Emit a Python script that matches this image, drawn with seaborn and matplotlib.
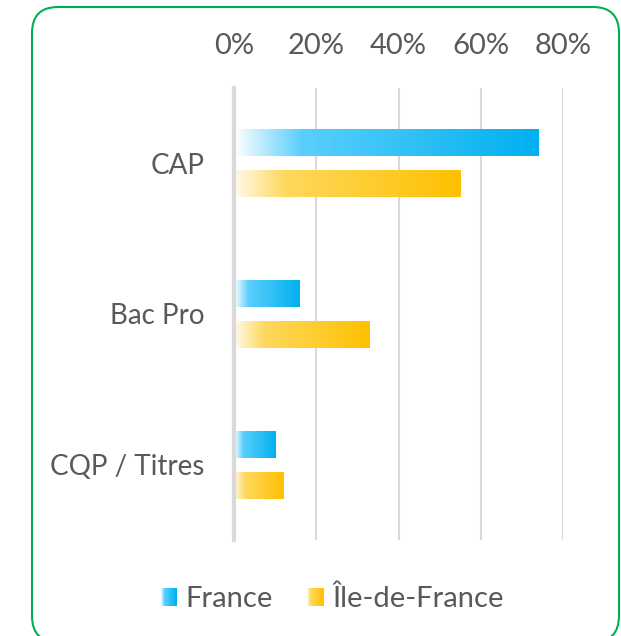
import numpy as np
import pandas as pd
import matplotlib
matplotlib.use("Agg")
import matplotlib.pyplot as plt
import seaborn as sns
from matplotlib.colors import LinearSegmentedColormap
from matplotlib.patches import FancyBboxPatch, Rectangle
from matplotlib.legend_handler import HandlerBase

# Share of apprentices by diploma type (%)
categories = ["CAP", "Bac Pro", "CQP / Titres"]
series = ["France", "Île-de-France"]
france = [74, 16, 10]
ile_de_france = [55, 33, 12]
tick_values = [0, 20, 40, 60, 80]
tick_labels = ["0%", "20%", "40%", "60%", "80%"]

df = pd.DataFrame({
    "Diplôme": categories * 2,
    "Zone": [series[0]] * len(categories) + [series[1]] * len(categories),
    "Part": france + ile_de_france,
})

TEXT = "#595959"
GRID = "#d9d9d9"
FS = 21

sns.set_theme(style="white")
plt.rcParams["font.family"] = ["Lato", "DejaVu Sans"]

W, H = 621, 636
fig = plt.figure(figsize=(W / 100, H / 100), dpi=100)
ax = fig.add_axes([234 / W, 1 - 540 / H, (563 - 234) / W, (540 - 88) / H])

sns.barplot(data=df, y="Diplôme", x="Part", hue="Zone", orient="h",
            order=categories, hue_order=series, width=0.544, gap=0.34,
            errorbar=None, saturation=1, linewidth=0, legend=False, ax=ax)

cmaps = {
    "France": LinearSegmentedColormap.from_list(
        "fr", [(0, "#ffffff"), (0.22, "#5bcffc"), (1, "#00b0f0")]),
    "Île-de-France": LinearSegmentedColormap.from_list(
        "idf", [(0, "#fffaee"), (0.22, "#fed95f"), (1, "#ffc000")]),
}

# Left-to-right gradient fill clipped to each bar
grad = np.linspace(0, 1, 256).reshape(1, -1)
for container, name in zip(ax.containers, series):
    for bar in container:
        x0, y0 = bar.get_x(), bar.get_y()
        w, h = bar.get_width(), bar.get_height()
        im = ax.imshow(grad, cmap=cmaps[name], extent=[x0, x0 + w, y0 + h, y0],
                       aspect="auto", interpolation="bilinear", zorder=2)
        im.set_clip_path(bar)
        bar.set_facecolor("none")

ax.set_xlim(0, 80)
ax.set_ylim(len(categories) - 0.5, -0.5)
ax.set_xticks(tick_values, tick_labels)
ax.xaxis.tick_top()
ax.tick_params(axis="x", length=0, pad=21, labelsize=FS, labelcolor=TEXT)
ax.tick_params(axis="y", length=0, pad=21, labelsize=20, labelcolor=TEXT)
ax.set_xlabel("")
ax.set_ylabel("")
ax.xaxis.grid(True, color=GRID, linewidth=1.5, zorder=0)
ax.set_axisbelow(True)
for side in ("top", "right", "bottom"):
    ax.spines[side].set_visible(False)
ax.spines["left"].set_color(GRID)
ax.spines["left"].set_linewidth(3)
ax.spines["left"].set_zorder(3)


class GradientHandler(HandlerBase):
    def __init__(self, cmap, n=20):
        super().__init__()
        self.cmap = cmap
        self.n = n

    def create_artists(self, legend, orig_handle, xdescent, ydescent,
                       width, height, fontsize, trans):
        artists = []
        step = width / self.n
        for i in range(self.n):
            r = Rectangle((-xdescent + i * step, -ydescent), step * 1.05, height,
                          facecolor=self.cmap(i / (self.n - 1)), edgecolor="none",
                          transform=trans)
            artists.append(r)
        return artists


handles = [Rectangle((0, 0), 1, 1) for _ in series]
fig.legend(handles, series,
           handler_map={h: GradientHandler(cmaps[s]) for h, s in zip(handles, series)},
           loc="center", bbox_to_anchor=(332 / W, 1 - 599 / H), ncol=2,
           frameon=False, fontsize=FS, labelcolor=TEXT,
           handlelength=0.58, handleheight=0.58, handletextpad=0.3,
           columnspacing=1.15)

# Rounded green frame around the chart
frame = FancyBboxPatch((32 / 100, (H - 642) / 100), (619 - 32) / 100, (642 - 7) / 100,
                       boxstyle="round,pad=0,rounding_size=0.26",
                       transform=fig.dpi_scale_trans, facecolor="none",
                       edgecolor="#00b050", linewidth=1.5)
fig.add_artist(frame)

fig.savefig("out.png", dpi=100)
